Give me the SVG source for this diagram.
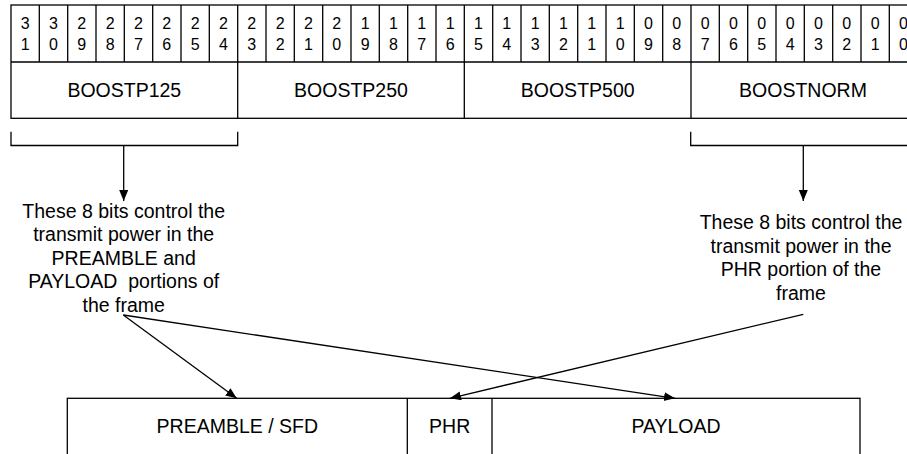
<svg xmlns="http://www.w3.org/2000/svg" width="907" height="454" viewBox="0 0 907 454">
<defs>
<style>
.ln{fill:none;stroke:#000;stroke-width:1.3}
.bx{fill:#fff;stroke:#000;stroke-width:1.3}
text{font-family:"Liberation Sans",Arial,sans-serif;fill:#000;text-anchor:middle}
.d{font-size:16px}
.n{font-size:19.5px}
.t{font-size:19.5px;white-space:pre}
.ar{fill:none;stroke:#000;stroke-width:1.3;marker-end:url(#ah)}
</style>
<marker id="ah" markerUnits="userSpaceOnUse" markerWidth="12" markerHeight="10" refX="11" refY="4.5" orient="auto">
<path d="M0,0 L11,4.5 L0,9 z" fill="#000"/>
</marker>
</defs>
<rect width="907" height="454" fill="#fff"/>
<g id="register">
<rect class="bx" x="11" y="5" width="906.7" height="113.3"/>
<path class="ln" d="M11,62 H917.7 M39.3,5 V62 M67.7,5 V62 M96,5 V62 M124.3,5 V62 M152.7,5 V62 M181,5 V62 M209.3,5 V62 M237.7,5 V118.3 M266,5 V62 M294.3,5 V62 M322.7,5 V62 M351,5 V62 M379.3,5 V62 M407.7,5 V62 M436,5 V62 M464.3,5 V118.3 M492.7,5 V62 M521,5 V62 M549.3,5 V62 M577.7,5 V62 M606,5 V62 M634.3,5 V62 M662.7,5 V62 M691,5 V118.3 M719.3,5 V62 M747.7,5 V62 M776,5 V62 M804.3,5 V62 M832.7,5 V62 M861,5 V62 M889.3,5 V62"/>
<g class="d">
<text x="25.2" y="28.5">3</text><text x="25.2" y="50">1</text>
<text x="53.5" y="28.5">3</text><text x="53.5" y="50">0</text>
<text x="81.8" y="28.5">2</text><text x="81.8" y="50">9</text>
<text x="110.2" y="28.5">2</text><text x="110.2" y="50">8</text>
<text x="138.5" y="28.5">2</text><text x="138.5" y="50">7</text>
<text x="166.8" y="28.5">2</text><text x="166.8" y="50">6</text>
<text x="195.2" y="28.5">2</text><text x="195.2" y="50">5</text>
<text x="223.5" y="28.5">2</text><text x="223.5" y="50">4</text>
<text x="251.8" y="28.5">2</text><text x="251.8" y="50">3</text>
<text x="280.2" y="28.5">2</text><text x="280.2" y="50">2</text>
<text x="308.5" y="28.5">2</text><text x="308.5" y="50">1</text>
<text x="336.8" y="28.5">2</text><text x="336.8" y="50">0</text>
<text x="365.2" y="28.5">1</text><text x="365.2" y="50">9</text>
<text x="393.5" y="28.5">1</text><text x="393.5" y="50">8</text>
<text x="421.8" y="28.5">1</text><text x="421.8" y="50">7</text>
<text x="450.2" y="28.5">1</text><text x="450.2" y="50">6</text>
<text x="478.5" y="28.5">1</text><text x="478.5" y="50">5</text>
<text x="506.8" y="28.5">1</text><text x="506.8" y="50">4</text>
<text x="535.2" y="28.5">1</text><text x="535.2" y="50">3</text>
<text x="563.5" y="28.5">1</text><text x="563.5" y="50">2</text>
<text x="591.8" y="28.5">1</text><text x="591.8" y="50">1</text>
<text x="620.2" y="28.5">1</text><text x="620.2" y="50">0</text>
<text x="648.5" y="28.5">0</text><text x="648.5" y="50">9</text>
<text x="676.8" y="28.5">0</text><text x="676.8" y="50">8</text>
<text x="705.2" y="28.5">0</text><text x="705.2" y="50">7</text>
<text x="733.5" y="28.5">0</text><text x="733.5" y="50">6</text>
<text x="761.8" y="28.5">0</text><text x="761.8" y="50">5</text>
<text x="790.2" y="28.5">0</text><text x="790.2" y="50">4</text>
<text x="818.5" y="28.5">0</text><text x="818.5" y="50">3</text>
<text x="846.8" y="28.5">0</text><text x="846.8" y="50">2</text>
<text x="875.2" y="28.5">0</text><text x="875.2" y="50">1</text>
<text x="903.5" y="28.5">0</text><text x="903.5" y="50">0</text>
</g>
<text class="n" x="124.3" y="97">BOOSTP125</text>
<text class="n" x="351" y="97">BOOSTP250</text>
<text class="n" x="577.7" y="97">BOOSTP500</text>
<text class="n" x="803" y="97">BOOSTNORM</text>
</g>
<g id="bracket-left">
<path class="ln" d="M11,131.7 V145.5 H237.7 V131.7"/>
</g>
<g id="bracket-right">
<path class="ln" d="M690.7,131.7 V145.5 H917"/>
</g>
<g id="note-left">
<text class="t" x="123.7" y="217.7">These 8 bits control the</text>
<text class="t" x="123.7" y="241.2">transmit power in the</text>
<text class="t" x="123.7" y="264.7">PREAMBLE and</text>
<text class="t" x="123.7" y="288.2">PAYLOAD  portions of</text>
<text class="t" x="123.7" y="311.7">the frame</text>
</g>
<g id="note-right">
<text class="t" x="801" y="229.3">These 8 bits control the</text>
<text class="t" x="801" y="252.8">transmit power in the</text>
<text class="t" x="801" y="276.3">PHR portion of the</text>
<text class="t" x="801" y="299.8">frame</text>
</g>
<g id="frame">
<rect class="bx" x="67.3" y="398.3" width="792.7" height="70"/>
<path class="ln" d="M407.3,398.3 V454 M492,398.3 V454"/>
<text class="n" x="237.3" y="433.3">PREAMBLE / SFD</text>
<text class="n" x="449.7" y="433.3">PHR</text>
<text class="n" x="676" y="433.3">PAYLOAD</text>
</g>
<g id="connectors">
<path class="ar" d="M123.7,145.5 V201"/>
<path class="ar" d="M803.3,145.5 V201"/>
<path class="ar" d="M123.3,315 L236.7,398.3"/>
<path class="ar" d="M123.3,315 L675,398.3"/>
<path class="ar" d="M803.3,314.3 L450,398.3"/>
</g>
</svg>
